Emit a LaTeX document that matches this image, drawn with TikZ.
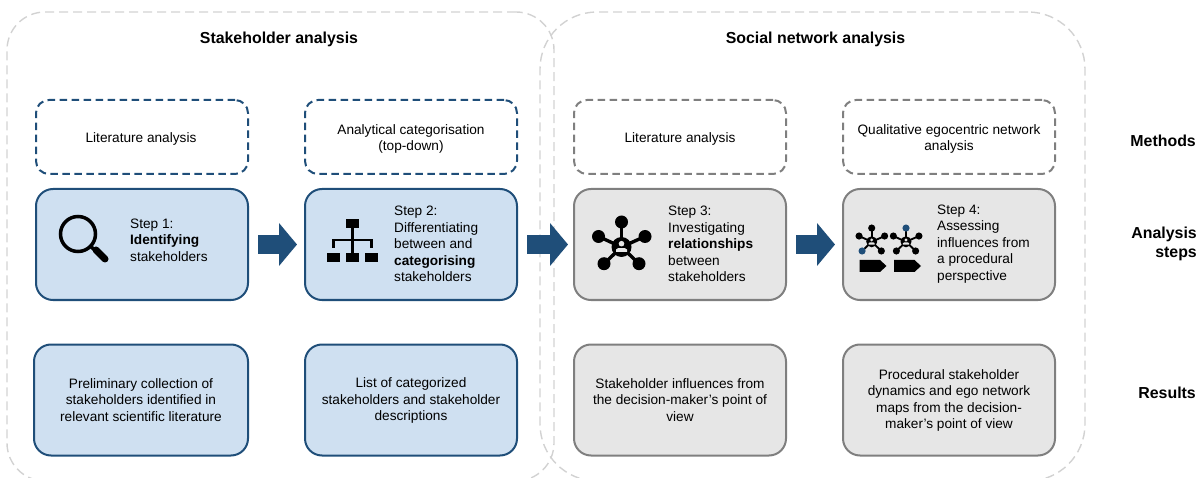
\documentclass[tikz,border=0pt]{standalone}
\usepackage{fontspec}
\setmainfont{Liberation Sans}
\usetikzlibrary{arrows.meta}

\definecolor{stepblue}{HTML}{1F4E79}
\definecolor{stepgrey}{HTML}{7F7F7F}
\definecolor{fillblue}{HTML}{CFE0F1}
\definecolor{fillgrey}{HTML}{E6E6E6}
\definecolor{panelgrey}{HTML}{D2D2D2}

\tikzset{
    txt/.style={inner sep=0pt, font=\fontsize{13.65}{16.6}\selectfont},
    head/.style={inner sep=0pt, font=\fontsize{15.9}{18.4}\selectfont\bfseries},
    panel/.style={draw=panelgrey, line width=1.4pt, dash pattern=on 9pt off 5pt, inner sep=0pt},
    methodbox/.style={inner sep=0pt, minimum width=212pt, minimum height=74pt, rounded corners=13pt,
        line width=2pt, dash pattern=on 7.5pt off 4.5pt},
    stepbox/.style={inner sep=0pt, minimum width=212pt, minimum height=111pt, rounded corners=17pt, line width=2pt},
    blockarrow/.style={draw=stepblue, line width=19pt, -{Triangle[length=18pt, width=42pt]}, shorten <=9pt},
}

% network icon: x, y, scale, colour of lower left and of top satellite
\newcommand{\egonet}[5]{
    \begin{scope}[shift={(#1,#2)}, scale=#3]
        \pgfmathsetmacro{\lw}{3.4*#3}
        \foreach \sx/\sy in {0/-25, -23/-10.5, 23.5/-10.5, -17.5/16.7, 17.5/16.7}
            \draw[line width=\lw pt] (0,0) -- (\sx,\sy);
        \fill (-23,-10.5) circle (6.5);
        \fill (23.5,-10.5) circle (6.5);
        \fill (17.5,16.7) circle (6.5);
        \fill[#4] (-17.5,16.7) circle (6.5);
        \fill[#5] (0,-25) circle (6.5);
        \fill (0,0) circle (10);
        \fill[fillgrey] (0,-3.3) circle (2.8);
        \fill[fillgrey] (-5.5,5) -- (-5.5,2.5) -- (-3.5,1.2) -- (3.5,1.2) -- (5.5,2.5) -- (5.5,5) -- cycle;
    \end{scope}
}

\begin{document}
\begin{tikzpicture}[x=1pt, y=-1pt]
    \clip (0,0) rectangle (1199,478);

    % panels
    \node[panel, rounded corners=38pt, minimum width=547pt, minimum height=469pt] (stakeholder) at (280.5,246.5) {};
    \node[panel, rounded corners=57pt, minimum width=545pt, minimum height=469pt] (network) at (812.5,246.5) {};
    \node[head] (stakeholdertitle) at (279,39) {Stakeholder analysis};
    \node[head] (networktitle) at (815.5,39) {Social network analysis};

    % methods
    \node[methodbox, draw=stepblue] (method1) at (142,137) {};
    \node[methodbox, draw=stepblue] (method2) at (411,137) {};
    \node[methodbox, draw=stepgrey] (method3) at (680,137) {};
    \node[methodbox, draw=stepgrey] (method4) at (949,137) {};

    \node[txt] (method1text) at (141,139) {Literature analysis};
    \node[txt, align=center] (method2text) at (411,139) {Analytical categorisation\\(top-down)};
    \node[txt] (method3text) at (680,139) {Literature analysis};
    \node[txt, align=center] (method4text) at (949,139) {Qualitative egocentric network\\analysis};

    % analysis steps
    \node[stepbox, draw=stepblue, fill=fillblue] (step1) at (142,244.5) {};
    \node[stepbox, draw=stepblue, fill=fillblue] (step2) at (411,244.5) {};
    \node[stepbox, draw=stepgrey, fill=fillgrey] (step3) at (680,244.5) {};
    \node[stepbox, draw=stepgrey, fill=fillgrey] (step4) at (949,244.5) {};

    \node[txt, align=left, anchor=west] (step1text) at (130,240) {Step 1:\\\textbf{Identifying}\\stakeholders};
    \node[txt, align=left, anchor=west] (step2text) at (394,244) {Step 2:\\Differentiating\\between and\\\textbf{categorising}\\stakeholders};
    \node[txt, align=left, anchor=west] (step3text) at (668,244) {Step 3:\\Investigating\\\textbf{relationships}\\between\\stakeholders};
    \node[txt, align=left, anchor=west] (step4text) at (937,244) {Step 4:\\Assessing\\influences from\\a procedural\\perspective};

    \draw[blockarrow, shorten >=7pt] (step1) -- (step2);
    \draw[blockarrow, shorten >=5pt] (step2) -- (step3);
    \draw[blockarrow, shorten >=7pt] (step3) -- (step4);

    % icons
    \begin{scope}
        \draw[line width=3.5pt] (78,234) circle (17.5);
        \draw[line width=3.5pt] (90,246) -- (96,251);
        \draw[line width=7pt, line cap=round] (96,250) -- (105,259);
    \end{scope}
    \begin{scope}
        \fill (346,219) rectangle (359,228);
        \fill (327,253) rectangle (340,262);
        \fill (346,253) rectangle (359,262);
        \fill (365,253) rectangle (378,262);
        \draw[line width=2.2pt] (352.5,228) -- (352.5,253);
        \draw[line width=2.2pt] (333.5,248) -- (333.5,240) -- (371.5,240) -- (371.5,248);
    \end{scope}
    \egonet{621.5}{247}{1}{black}{black}
    \egonet{871.7}{241.8}{0.55}{stepblue}{black}
    \egonet{906}{241.8}{0.55}{black}{stepblue}
    \fill (859.5,260) -- (880,260) -- (886.5,266) -- (880,272) -- (859.5,272) -- cycle;
    \fill (894,260) -- (914.5,260) -- (921,266) -- (914.5,272) -- (894,272) -- cycle;

    % results
    \node[stepbox, minimum width=214pt, draw=stepblue, fill=fillblue] (result1) at (141,400) {};
    \node[stepbox, draw=stepblue, fill=fillblue] (result2) at (411,400) {};
    \node[stepbox, draw=stepgrey, fill=fillgrey] (result3) at (680,400) {};
    \node[stepbox, draw=stepgrey, fill=fillgrey] (result4) at (949,400) {};

    \node[txt, align=center] (result1text) at (141,400) {Preliminary collection of\\stakeholders identified in\\relevant scientific literature};
    \node[txt, align=center] (result2text) at (411,400.5) {List of categorized\\stakeholders and stakeholder\\descriptions};
    \node[txt, align=center] (result3text) at (680,400) {Stakeholder influences from\\the decision-maker's point of\\view};
    \node[txt, align=center] (result4text) at (949,400.5) {Procedural stakeholder\\dynamics and ego network\\maps from the decision-\\maker's point of view};

    % row labels
    \node[head, anchor=east] (methods) at (1196,141) {Methods};
    \node[head, anchor=east, align=right] (analysis) at (1197,244) {Analysis\\steps};
    \node[head, anchor=east] (results) at (1196,393) {Results};
\end{tikzpicture}
\end{document}
